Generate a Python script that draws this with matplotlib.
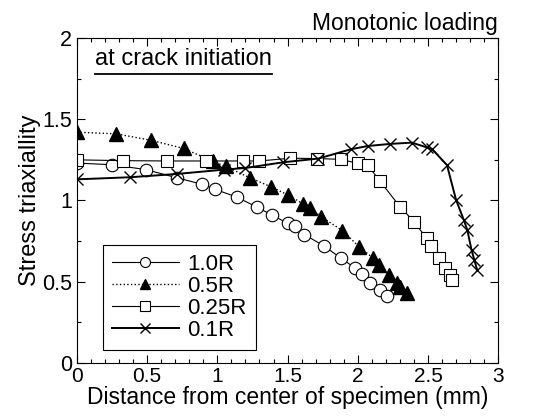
import matplotlib
matplotlib.use("Agg")
import matplotlib.pyplot as plt
from matplotlib.ticker import MultipleLocator, FormatStrFormatter

plt.rcParams['font.family'] = ['Liberation Sans', 'DejaVu Sans']

# 1.0R
x_10 = [0, 0.25, 0.49, 0.71, 0.89, 0.98, 1.14, 1.28, 1.39, 1.50, 1.55, 1.62,
        1.76, 1.88, 1.98, 2.03, 2.09, 2.16, 2.21]
y_10 = [1.23, 1.22, 1.19, 1.14, 1.10, 1.07, 1.02, 0.96, 0.91, 0.86, 0.84, 0.79,
        0.72, 0.645, 0.585, 0.55, 0.49, 0.45, 0.41]
# 0.5R
x_05 = [0, 0.28, 0.53, 0.76, 0.97, 1.06, 1.23, 1.38, 1.50, 1.61, 1.66, 1.74,
        1.89, 2.01, 2.11, 2.15, 2.22, 2.28, 2.30, 2.35]
y_05 = [1.42, 1.41, 1.37, 1.32, 1.24, 1.21, 1.14, 1.085, 1.035, 0.98, 0.955, 0.90,
        0.815, 0.715, 0.645, 0.60, 0.54, 0.49, 0.47, 0.43]
# 0.25R
x_025 = [0, 0.33, 0.64, 0.92, 1.18, 1.30, 1.52, 1.71, 1.88, 2.0, 2.07, 2.16,
         2.30, 2.40, 2.49, 2.52, 2.58, 2.62, 2.66, 2.67]
y_025 = [1.25, 1.245, 1.243, 1.243, 1.243, 1.243, 1.26, 1.258, 1.253, 1.228, 1.218, 1.117,
         0.962, 0.87, 0.767, 0.72, 0.644, 0.583, 0.54, 0.51]
# 0.1R
x_01 = [0, 0.38, 0.71, 1.05, 1.2, 1.47, 1.72, 1.95, 2.07, 2.23, 2.385, 2.49,
        2.53, 2.635, 2.70, 2.755, 2.78, 2.81, 2.83, 2.85]
y_01 = [1.13, 1.143, 1.163, 1.19, 1.2, 1.235, 1.258, 1.315, 1.335, 1.348, 1.356, 1.327,
        1.315, 1.218, 1.003, 0.88, 0.818, 0.695, 0.634, 0.572]

fig = plt.figure(figsize=(5.34, 4.17), dpi=100)
ax = fig.add_axes([0.144, 0.1295, 0.789, 0.7795])

ax.plot(x_10, y_10, '-', color='black', lw=0.8, marker='o', ms=9,
        mfc='white', mec='black', mew=0.8, label='1.0R')
ax.plot(x_05, y_05, ':', color='black', lw=1.0, marker='^', ms=9.5,
        mfc='black', mec='black', label='0.5R')
ax.plot(x_025, y_025, '-', color='black', lw=0.8, marker='s', ms=8.5,
        mfc='white', mec='black', mew=0.8, label='0.25R')
ax.plot(x_01, y_01, '-', color='black', lw=1.4, marker='x', ms=9,
        mec='black', mew=1.0, label='0.1R')

ax.set_xlim(0, 3)
ax.set_ylim(0, 2)
ax.xaxis.set_major_locator(MultipleLocator(0.5))
ax.xaxis.set_minor_locator(MultipleLocator(0.1))
ax.yaxis.set_major_locator(MultipleLocator(0.5))
ax.yaxis.set_minor_locator(MultipleLocator(0.25))
ax.xaxis.set_major_formatter(FormatStrFormatter('%g'))
ax.yaxis.set_major_formatter(FormatStrFormatter('%g'))
ax.tick_params(which='both', direction='in', top=True, right=True, labelsize=15.5, width=0.8)
ax.tick_params(which='major', length=6)
ax.tick_params(which='minor', length=3)
ax.tick_params(axis='x', which='major', labelsize=15, pad=3)
ax.tick_params(axis='y', which='major', pad=3.5)
for s in ax.spines.values():
    s.set_linewidth(0.8)

ax.set_xlabel('Distance from center of specimen (mm)', fontsize=16.5, labelpad=0)
ax.set_ylabel('Stress triaxiallity', fontsize=17, labelpad=1)

ax.text(1.0, 1.01, 'Monotonic loading', transform=ax.transAxes,
        ha='right', va='bottom', fontsize=16.5)
t = ax.text(0.043, 0.9, 'at crack initiation', transform=ax.transAxes,
            ha='left', va='bottom', fontsize=17)
fig.canvas.draw()
bb = t.get_window_extent().transformed(ax.transAxes.inverted())
ax.plot([bb.x0, bb.x1], [bb.y0 - 0.01, bb.y0 - 0.01], color='black', lw=1.3,
        transform=ax.transAxes, clip_on=False)

leg = ax.legend(loc='lower left', bbox_to_anchor=(0.062, 0.04), borderaxespad=0,
                fontsize=16, fancybox=False, edgecolor='black', framealpha=1,
                handlelength=3.0, handletextpad=0.4, labelspacing=0.05,
                markerscale=0.8, borderpad=0.4)
leg.get_frame().set_linewidth(0.8)

fig.savefig('out.png', dpi=100)
